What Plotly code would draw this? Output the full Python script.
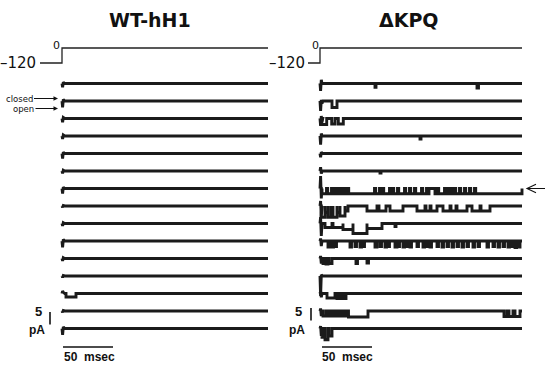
import plotly.graph_objects as go

# ---------------- data ----------------
PANELS = ["WT-hH1", "ΔKPQ"]
TRACE_END_MS = [206, 202]
N_ROWS = 15
ROW_SPACING_PA = 7.0
V_HOLD_MV = -120
V_TEST_MV = 0
PROTOCOL_START_MS = [-22, -12]
SCALE_PA = 5
SCALE_MS = 50

# capacity transient sample times (ms) and per-sweep values (pA)
TRANSIENT_MS = [0.6, 1.3, 2.0]
WT_TRANSIENTS = [
    [-1.5, 0.5, 0.0], [-2.5, 0.6, 0.0], [-1.5, 0.4, 0.0], [-1.2, 0.4, 0.0],
    [-2.0, 0.5, 0.0], [-1.0, 0.3, 0.0], [-2.0, 0.5, 0.0], [-0.5, 0.2, 0.0],
    [-1.0, 0.3, 0.0], [-2.5, 0.6, 0.0], [-1.0, 0.3, 0.0], [-0.6, 0.2, 0.0],
    [1.0, 0.5, 0.0], [-0.5, 0.2, 0.0], [-2.5, 0.6, 0.0],
]
KPQ_TRANSIENTS = [
    [-3.0, 1.5, 0.0], [-4.0, 0.5, -1.0], [-3.0, 1.0, -1.5], [-3.5, 1.0, 0.0],
    [-1.5, 0.5, 0.0], [1.5, -1.0, 0.0], [5.0, -4.0, 0.0], [2.0, -4.5, 0.0],
    [2.5, -5.0, 0.0], [1.0, -2.0, 0.0], [1.0, -2.0, 0.0], [-8.0, 0.5, 0.0],
    [1.0, -1.5, 0.0], [1.0, -2.0, 0.0], [1.0, -3.0, 0.0],
]

# single-channel openings: (start ms, end ms, current pA) per sweep
WT_EVENTS = [
    [], [], [], [], [], [], [], [], [], [], [], [],
    [(4, 14, -1.4)],
    [], [],
]
KPQ_EVENTS = [
    [(55, 56, -1.5), (157, 158.5, -1.8)],
    [(12, 17, -2.6)],
    [(1.7, 6.7, -2.4), (11.7, 15, -2.2), (18.3, 23.3, -2.2)],
    [(100, 101, -1.2)],
    [],
    [(60, 61, -0.8)],
    [(2, 6.5, -2.1), (7.7, 11.5, -2.1), (12.7, 14.5, -2.1), (15.7, 17.5, -2.1),
     (18.7, 21.5, -2.1), (22.7, 24.5, -2.1), (25.7, 27.5, -2.1), (28.7, 54.5, -2.1),
     (55.7, 59.5, -2.1), (60.7, 62.5, -2.1), (63.7, 69.5, -2.1), (70.7, 72.5, -2.1),
     (73.7, 77.5, -2.1), (78.7, 84.5, -2.1), (85.7, 89.5, -2.1), (90.7, 94.5, -2.1),
     (95.7, 101.5, -2.1), (102.7, 106.5, -2.1), (107.7, 109, -2.1), (115, 117.5, -2.1),
     (118.7, 124.5, -2.1), (125.7, 127.5, -2.1), (128.7, 131.5, -2.1), (132.7, 134.5, -2.1),
     (135.7, 139.5, -2.1), (140.7, 144.5, -2.1), (145.7, 149.5, -2.1), (150.7, 154.5, -2.1),
     (155.7, 202, -2.1)],
    [(1, 5, -4.5), (5, 8, -2.5), (8, 11, -4.5), (11, 13, -2.5), (13, 17, -4.5),
     (17, 20, -2.5), (20, 25, -4.0), (25, 28, -2.0), (47, 57, -2.0), (59, 66, -2.0),
     (70, 83, -2.0), (97, 105, -2.0), (106, 110, -2.0), (111, 117, -2.0), (123, 130, -2.0),
     (131, 136, -2.0), (137, 147, -2.0), (152, 160, -2.0), (161, 170, -2.0)],
    [(5, 12, -1.6), (13, 23, -1.6), (23, 33, -2.4), (33, 47, -4.0), (47, 62, -2.0),
     (75, 76, -1.2)],
    [(8, 9.5, -2.4), (12, 13.5, -2.4), (15, 16.5, -2.2), (30, 31.5, -2.4), (35, 36.5, -2.2),
     (40, 41.5, -2.4), (43, 44.5, -2.2), (55, 57, -2.4), (60, 61.5, -2.2), (65, 66.5, -2.4),
     (68, 69.5, -2.2), (75, 77, -2.4), (78, 79.5, -2.2), (83, 84.5, -2.4), (87, 88.5, -2.2),
     (90, 91.5, -2.4), (97, 98.5, -2.2), (103, 104.5, -2.4), (107, 108.5, -2.2),
     (110, 111.5, -2.4), (117, 118.5, -2.2), (122, 123.5, -2.4), (127, 128.5, -2.2),
     (132, 133.5, -2.4), (137, 138.5, -2.2), (142, 143.5, -2.4), (147, 148.5, -2.2),
     (153, 154.5, -2.4), (158, 159.5, -2.2), (167, 168.5, -2.4), (173, 174.5, -2.2),
     (178, 179.5, -2.4), (183, 184.5, -2.2), (188, 189.5, -2.4), (192, 193.5, -2.2),
     (195, 196.5, -2.6), (198, 200, -2.4)],
    [(3, 5, -2.0), (6, 8, -2.2), (9, 12, -2.0), (36, 37.5, -2.0), (47, 48.5, -1.8)],
    [],
    [(7, 15, -1.8), (17, 19, -2.0), (21, 23, -2.0), (24, 26, -2.0)],
    [(3, 6, -2.0), (7.5, 9.5, -2.0), (11, 13, -2.0), (14.5, 16.5, -2.0), (18, 20, -2.0),
     (21.5, 23.5, -2.0), (25, 27, -2.0), (28.5, 48, -2.4), (184, 187, -2.2),
     (189, 193, -2.2), (195, 200, -2.2)],
    [(2, 4, -3.5), (5, 8, -4.5), (9, 12, -3.0)],
]
ALL_EVENTS = [WT_EVENTS, KPQ_EVENTS]
ALL_TRANSIENTS = [WT_TRANSIENTS, KPQ_TRANSIENTS]

# ---------------- geometry ----------------
W, H = 545, 366
PX_PER_PA = 2.5
ROW0_PX = 83.5
Y_TOP = ROW0_PX / PX_PER_PA
Y_RANGE = [Y_TOP - H / PX_PER_PA, Y_TOP]
MV_PER_PX = 8.0
V0_PX = 48
V_RANGE = [-(H - V0_PX) * MV_PER_PX, V0_PX * MV_PER_PX]

X_REFS = ["x", "x2"]
TRACE_COLOR = "#1b1b1b"
INK = "#111111"
FONT = "DejaVu Sans"


def sweep_xy(events, transient, t_end, offset):
    xs = [0.0]
    ys = [offset]
    for t, v in zip(TRANSIENT_MS, transient):
        xs.append(t)
        ys.append(offset + v)
    xs.append(2.8)
    ys.append(offset)
    for t0, t1, lvl in events:
        xs += [t0, t0, t1, t1]
        ys += [offset, offset + lvl, offset + lvl, offset]
    xs.append(t_end)
    ys.append(offset)
    return xs, ys


fig = go.Figure()
for p in range(2):
    X, Y = [], []
    for r in range(N_ROWS):
        off = -ROW_SPACING_PA * r
        xs, ys = sweep_xy(ALL_EVENTS[p][r], ALL_TRANSIENTS[p][r], TRACE_END_MS[p], off)
        X += xs + [None]
        Y += ys + [None]
    fig.add_trace(go.Scatter(x=X, y=Y, mode="lines", xaxis=X_REFS[p], yaxis="y",
                             line=dict(color=TRACE_COLOR, width=2.9), hoverinfo="skip",
                             showlegend=False))
    # voltage protocol
    fig.add_trace(go.Scatter(
        x=[PROTOCOL_START_MS[p], 0, 0, TRACE_END_MS[p]],
        y=[V_HOLD_MV, V_HOLD_MV, V_TEST_MV, V_TEST_MV],
        mode="lines", xaxis=X_REFS[p], yaxis="y3",
        line=dict(color="#222222", width=1.3), hoverinfo="skip", showlegend=False))

fig.update_layout(
    width=W, height=H, autosize=False,
    margin=dict(l=0, r=0, t=0, b=0),
    paper_bgcolor="white", plot_bgcolor="white",
    xaxis=dict(domain=[0, 270 / W], range=[-62, 208], visible=False, fixedrange=True),
    xaxis2=dict(domain=[270 / W, 1], range=[-50, 225], visible=False, fixedrange=True),
    yaxis=dict(domain=[0, 1], range=Y_RANGE, visible=False, fixedrange=True),
    yaxis3=dict(domain=[0, 1], range=V_RANGE, visible=False, overlaying="y",
                fixedrange=True),
)

ann = []
# titles
for p, cx in zip(range(2), [150, 409]):
    ann.append(dict(text=PANELS[p], x=cx / W, y=1 - 20 / H, xref="paper", yref="paper",
                    showarrow=False, xanchor="center", yanchor="middle",
                    font=dict(family=FONT, size=19, color=INK, weight="bold")))
# voltage labels
for p, (xr, x120, x0) in enumerate([("x", -24, -5.5), ("x2", -13, -5)]):
    ann.append(dict(text="–120", x=x120, y=V_HOLD_MV, xref=xr, yref="y3", showarrow=False,
                    xanchor="right", yanchor="middle",
                    font=dict(family=FONT, size=15, color=INK)))
    ann.append(dict(text=str(V_TEST_MV), x=x0, y=V_TEST_MV, xref=xr, yref="y3",
                    showarrow=False, xanchor="center", yanchor="middle", yshift=3,
                    font=dict(family=FONT, size=11, color=INK)))
# scale bar labels
for xr, x5, xpa in [("x", -23.5, -25.5), ("x2", -21.5, -23.5)]:
    ann.append(dict(text=str(SCALE_PA), x=x5, y=Y_TOP - 311 / PX_PER_PA, xref=xr, yref="y",
                    showarrow=False, xanchor="center", yanchor="middle",
                    font=dict(family="Liberation Sans", size=13, color=INK, weight="bold")))
    ann.append(dict(text="pA", x=xpa, y=Y_TOP - 330 / PX_PER_PA, xref=xr, yref="y",
                    showarrow=False, xanchor="center", yanchor="middle",
                    font=dict(family="Liberation Sans", size=12, color=INK, weight="bold")))
    ann.append(dict(text=f"{SCALE_MS}\u00a0\u00a0msec", x=27, y=Y_TOP - 357 / PX_PER_PA,
                    xref=xr, yref="y", showarrow=False, xanchor="center", yanchor="middle",
                    font=dict(family="Liberation Sans", size=12, color=INK, weight="bold")))
# closed / open markers
for txt, cx, ypx in [("closed", 19, 98.5), ("open", 23.5, 108.5)]:
    ann.append(dict(text=txt, x=-4, y=Y_TOP - ypx / PX_PER_PA, xref="x", yref="y",
                    ax=cx - 58, ay=0, axref="pixel", ayref="pixel",
                    showarrow=True, arrowhead=2, arrowsize=0.9, arrowwidth=1,
                    arrowcolor=INK, standoff=0,
                    font=dict(family=FONT, size=8.5, color=INK)))
fig.update_layout(annotations=ann)

shapes = []
# scale bars
for xr, xv, yv_top, x_h0 in [("x", -12, Y_TOP - 312 / PX_PER_PA, 1),
                              ("x2", -9, Y_TOP - 308 / PX_PER_PA, 2)]:
    shapes.append(dict(type="line", xref=xr, yref="y", x0=xv, x1=xv, y0=yv_top,
                       y1=yv_top - SCALE_PA, line=dict(color=INK, width=1.6)))
    yh = Y_TOP - 347 / PX_PER_PA
    shapes.append(dict(type="line", xref=xr, yref="y", x0=x_h0, x1=x_h0 + SCALE_MS,
                       y0=yh, y1=yh, line=dict(color=INK, width=1.4)))
# arrow pointing at the bursting sweep
yr = -ROW_SPACING_PA * 6
shapes.append(dict(type="path", xref="x2", yref="y",
                   path=f"M 216,{yr + 1.7} L 207,{yr} L 216,{yr - 1.7} M 207,{yr} L 225,{yr}",
                   line=dict(color=INK, width=1.1)))
fig.update_layout(shapes=shapes)

fig.write_html(
    "out.html",
    config={"displayModeBar": False},
    post_script="document.body.style.margin='0';document.body.style.overflow='hidden';",
)
